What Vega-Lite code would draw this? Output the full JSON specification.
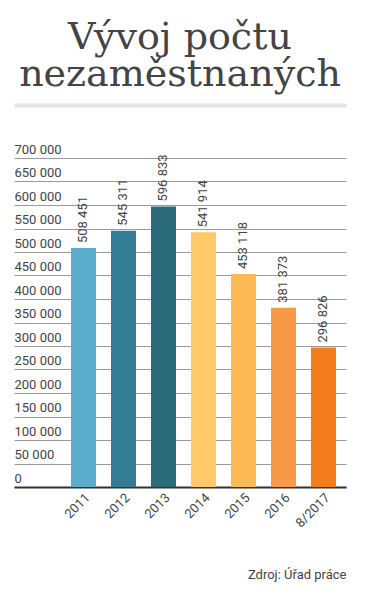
{
  "$schema": "https://vega.github.io/schema/vega-lite/v6.json",
  "autosize": "none",
  "width": 332,
  "height": 329,
  "padding": {"left": 14, "top": 158, "right": 22, "bottom": 103},
  "background": "#ffffff",
  "title": {
    "text": ["Vývoj počtu", "nezaměstnaných"],
    "anchor": "middle",
    "frame": "group",
    "orient": "top",
    "font": "DejaVu Serif",
    "fontSize": 38,
    "fontWeight": "normal",
    "lineHeight": 37,
    "color": "#444444",
    "baseline": "alphabetic",
    "offset": -19
  },
  "data": {
    "values": [
      {"rok": "2011", "pocet": 508451},
      {"rok": "2012", "pocet": 545311},
      {"rok": "2013", "pocet": 596833},
      {"rok": "2014", "pocet": 541914},
      {"rok": "2015", "pocet": 453118},
      {"rok": "2016", "pocet": 381373},
      {"rok": "8/2017", "pocet": 296826}
    ]
  },
  "encoding": {
    "x": {
      "field": "rok",
      "type": "nominal",
      "sort": null,
      "scale": {"paddingInner": 0.375, "paddingOuter": 0.8375, "align": 0.8507}
    },
    "y": {
      "field": "pocet",
      "type": "quantitative",
      "scale": {"domain": [0, 700000], "nice": false},
      "axis": {
        "title": null,
        "tickCount": 14,
        "format": ",d",
        "domain": false,
        "ticks": false,
        "labelOverlap": false,
        "labelAlign": "left",
        "labelBaseline": "alphabetic",
        "labelOffset": -5,
        "labelPadding": 0,
        "labelFont": "Roboto",
        "labelFontSize": 13,
        "labelColor": "#444444",
        "grid": true,
        "gridColor": "#9a9a9a",
        "gridWidth": 1,
        "zindex": 0
      }
    }
  },
  "layer": [
    {
      "mark": {"type": "bar"},
      "encoding": {
        "x": {
          "field": "rok",
          "type": "nominal",
          "sort": null,
          "axis": {
            "orient": "bottom",
            "labelAngle": -45,
            "labelFont": "Roboto",
            "labelFontSize": 13,
            "labelColor": "#444444",
            "labelPadding": 4,
            "ticks": false,
            "domainColor": "#333333",
            "domainWidth": 2,
            "title": "Zdroj: Úřad práce",
            "titleFont": "Roboto",
            "titleFontSize": 13,
            "titleFontWeight": "normal",
            "titleColor": "#444444",
            "titleAnchor": "end",
            "titleAlign": "right",
            "titleBaseline": "alphabetic",
            "titleY": 91
          }
        },
        "color": {
          "field": "rok",
          "type": "nominal",
          "sort": null,
          "legend": null,
          "scale": {
            "domain": ["2011", "2012", "2013", "2014", "2015", "2016", "8/2017"],
            "range": ["#5aaecb", "#327c96", "#2b6a78", "#fec966", "#fcba56", "#f79947", "#f57c1b"]
          }
        }
      }
    },
    {
      "mark": {
        "type": "text",
        "angle": 270,
        "align": "left",
        "baseline": "middle",
        "dx": 5,
        "font": "Roboto",
        "fontSize": 13,
        "color": "#444444"
      },
      "encoding": {
        "x": {
          "field": "rok",
          "type": "nominal",
          "sort": null,
          "axis": {
            "orient": "top",
            "labels": false,
            "ticks": false,
            "title": null,
            "domainColor": "#e5e5e5",
            "domainWidth": 4,
            "offset": 53
          }
        },
        "text": {"field": "pocet", "type": "quantitative", "format": ",d"}
      }
    }
  ],
  "resolve": {"axis": {"x": "independent"}},
  "config": {
    "view": {"stroke": null},
    "locale": {
      "number": {"decimal": ",", "thousands": " ", "grouping": [3], "currency": ["", " Kč"]}
    }
  }
}
